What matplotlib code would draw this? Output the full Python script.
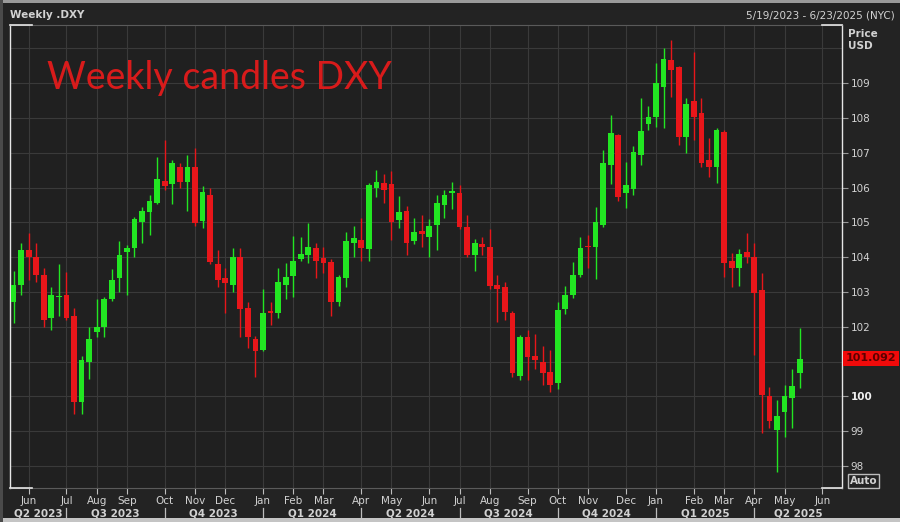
import matplotlib.pyplot as plt
import matplotlib.transforms as mtransforms
from matplotlib.patches import Rectangle
import pandas as pd

# weekly candles, week starting Monday
weeks = pd.date_range("2023-05-15", "2025-05-12", freq="7D")

opens = [102.7, 103.2, 104.2, 104.0, 103.5, 102.25, 102.85, 102.9, 102.3, 99.85,
         101.0, 101.85, 102.0, 102.8, 103.4, 104.15, 104.26, 105.0, 105.3, 105.56,
         106.2, 106.1, 106.6, 106.16, 106.6, 105.05, 105.8, 103.8, 103.4, 103.2,
         104.0, 102.55, 101.65, 101.33, 102.45, 102.4, 103.2, 103.45, 103.95, 104.07,
         104.26, 103.97, 103.86, 102.7, 103.4, 104.4, 104.5, 104.24, 106.0, 106.13,
         106.1, 105.07, 105.33, 104.47, 104.75, 104.58, 104.93, 105.5, 105.85, 105.85,
         104.87, 104.06, 104.38, 104.3, 103.2, 103.15, 102.4, 100.6, 101.7, 101.16,
         101.0, 100.7, 100.4, 102.5, 102.9, 103.49, 104.3, 104.3, 104.93, 106.65,
         107.5, 105.85, 105.96, 106.94, 107.83, 108.03, 108.9, 109.67, 109.47, 107.45,
         108.5, 108.14, 106.8, 106.6, 107.6, 103.9, 103.7, 104.15, 104.0, 103.06,
         100.0, 99.03, 99.55, 99.95, 100.67]
highs = [103.6, 104.4, 104.7, 104.4, 103.7, 103.15, 103.8, 103.57, 102.55, 101.16,
         102.0, 102.8, 102.85, 103.66, 104.47, 104.35, 105.15, 105.44, 105.8, 106.88,
         107.37, 106.8, 106.7, 106.94, 107.14, 106.05, 106.0, 104.2, 103.7, 104.26,
         104.26, 102.7, 101.73, 103.1, 102.7, 103.7, 103.83, 104.6, 104.58, 104.98,
         104.4, 104.3, 103.95, 103.5, 104.72, 104.9, 105.13, 106.13, 106.5, 106.4,
         106.48, 105.76, 105.47, 105.13, 105.2, 105.1, 105.8, 105.93, 106.16, 106.07,
         105.2, 104.52, 104.58, 104.8, 103.5, 103.3, 102.45, 101.76, 101.9, 101.8,
         101.45, 101.33, 102.7, 103.17, 103.87, 104.57, 104.63, 105.44, 107.08, 108.09,
         107.54, 106.74, 107.2, 108.57, 108.34, 109.58, 110.0, 110.24, 109.5, 108.57,
         109.9, 108.57, 107.42, 107.7, 107.66, 104.12, 104.24, 104.7, 104.4, 103.55,
         100.27, 99.9, 100.33, 100.8, 101.97]
lows = [102.1, 102.9, 103.35, 103.3, 102.0, 101.9, 102.3, 102.2, 99.5, 99.5,
        100.5, 101.7, 101.7, 102.75, 103.0, 102.9, 104.0, 104.4, 104.64, 105.53,
        105.93, 105.53, 106.0, 105.33, 104.9, 104.84, 103.8, 103.15, 102.4, 103.0,
        101.7, 101.4, 100.56, 101.3, 102.05, 102.25, 102.8, 102.86, 103.9, 103.83,
        103.4, 103.55, 102.3, 102.6, 103.15, 104.0, 103.9, 103.9, 105.73, 105.56,
        104.5, 104.84, 104.06, 104.38, 104.3, 104.0, 104.2, 105.13, 105.38, 104.8,
        104.0, 103.6, 104.06, 103.1, 102.14, 102.2, 100.56, 100.47, 100.47, 100.8,
        100.33, 100.13, 100.2, 102.36, 102.83, 103.42, 103.68, 103.37, 104.87, 106.1,
        105.6, 105.4, 105.8, 106.65, 107.66, 107.74, 107.7, 108.6, 107.22, 107.0,
        107.37, 106.6, 106.3, 106.13, 103.43, 103.14, 103.17, 103.83, 101.2, 98.95,
        99.1, 97.83, 98.83, 99.1, 100.24]
closes = [103.2, 104.2, 104.0, 103.5, 102.2, 102.9, 102.88, 102.25, 99.85, 101.05,
          101.65, 102.0, 102.8, 103.35, 104.06, 104.26, 105.1, 105.33, 105.6, 106.25,
          106.05, 106.7, 106.16, 106.6, 104.98, 105.87, 103.86, 103.35, 103.26, 104.0,
          102.5, 101.7, 101.3, 102.4, 102.4, 103.3, 103.43, 103.9, 104.1, 104.3,
          103.9, 103.83, 102.7, 103.43, 104.47, 104.55, 104.26, 106.07, 106.16, 105.93,
          105.0, 105.3, 104.4, 104.72, 104.67, 104.9, 105.56, 105.8, 105.9, 104.87,
          104.06, 104.4, 104.3, 103.17, 103.1, 102.43, 100.67, 101.7, 101.13, 101.05,
          100.67, 100.33, 102.48, 102.9, 103.49, 104.26, 104.28, 105.0, 106.7, 107.57,
          105.73, 106.07, 107.02, 107.63, 108.03, 109.0, 109.7, 109.38, 107.45, 108.4,
          108.03, 106.7, 106.6, 107.66, 103.83, 103.7, 104.1, 104.0, 102.97, 100.04,
          99.3, 99.44, 100.0, 100.3, 101.07]
last_price = 101.092
price_ticks = list(range(98, 110))

BG = "#232323"
PLOT_BG = "#202020"
GRID = "#3a3a3a"
TXT = "#d2d2d2"
GREEN = "#22e622"
RED = "#e8161a"

fig = plt.figure(figsize=(9, 5.22), dpi=100, facecolor=BG)
ax = fig.add_axes([10 / 900, 34 / 522, 832 / 900, 463 / 522])
ax.set_facecolor(PLOT_BG)

# candles
xs = list(range(len(weeks)))
cols = [GREEN if c >= o else RED for o, c in zip(opens, closes)]
bottoms = [min(o, c) for o, c in zip(opens, closes)]
heights = [max(abs(c - o), 0.04) for o, c in zip(opens, closes)]
ax.vlines(xs, lows, highs, colors=cols, lw=1.0, zorder=3)
ax.bar(xs, heights, bottom=bottoms, width=0.76, color=cols, zorder=4, linewidth=0)

xmin, xmax = -0.47, 109.6
ax.set_xlim(xmin, xmax)
ax.set_ylim(97.37, 110.67)


# month ticks sit on the candle of the week holding the first trading day
def week_pos(d):
    while d.weekday() >= 5:
        d = d + pd.Timedelta(days=1)
    return (d - weeks[0]).days // 7


months = pd.date_range("2023-06-01", "2025-06-01", freq="MS")
mpos = [week_pos(m) for m in months]
ax.set_xticks(mpos)
ax.set_xticklabels([m.strftime("%b") for m in months], fontsize=7.5, color=TXT)
ax.tick_params(axis="x", length=4, color="#bdbdbd", pad=1.5)

# quarter labels
trans = mtransforms.blended_transform_factory(ax.transData, ax.transAxes)
qb = [(p, m) for p, m in zip(mpos, months) if m.month in (1, 4, 7, 10)]
edges = [xmin] + [p for p, m in qb] + [xmax]
qnames = ["Q2 2023"] + ["Q%d %d" % ((m.month - 1) // 3 + 1, m.year) for p, m in qb]
for a, b, name in zip(edges[:-1], edges[1:], qnames):
    ax.text((a + b) / 2, -0.056, name, transform=trans, ha="center", va="center",
            fontsize=7.5, fontweight="bold", color=TXT, clip_on=False)
for p, m in qb:
    ax.plot([p, p], [-0.043, -0.066], transform=trans, color="#bdbdbd", lw=0.9,
            clip_on=False)

# price axis on the right; the 101 label sits under the last price tag
ax.yaxis.tick_right()
ax.set_yticks(price_ticks)
ax.set_yticklabels(["" if v == 101 else str(v) for v in price_ticks], fontsize=7.5,
                   color=TXT)
for t in ax.get_yticklabels():
    if t.get_text() == "100":
        t.set_fontweight("bold")
        t.set_color("#f0f0f0")
ax.tick_params(axis="y", length=4, color="#9a9a9a", pad=2)
ax.grid(True, color=GRID, lw=0.8, zorder=0)
ax.axhline(110, color=GRID, lw=0.8, zorder=0)
ax.set_axisbelow(True)

for side in ("top", "bottom"):
    ax.spines[side].set_color("#5a5a5a")
for side in ("left", "right"):
    ax.spines[side].set_color("#e6e6e6")
    ax.spines[side].set_linewidth(1.0)
# white corner marks on the frame
for xa, xb in ((0, 0.027), (0.976, 1)):
    for ya in (0, 1):
        ax.plot([xa, xb], [ya, ya], transform=ax.transAxes, color="#e6e6e6", lw=1.2,
                clip_on=False, zorder=6)

# last price tag
ytrans = mtransforms.blended_transform_factory(ax.transAxes, ax.transData)
ax.text(1.004, last_price, "%.3f" % last_price, transform=ytrans, ha="left",
        va="center", fontsize=8, fontweight="bold", color="#5c0000", clip_on=False,
        bbox=dict(boxstyle="square,pad=0.25", facecolor="#f00a0a", edgecolor="none"),
        zorder=7)

# annotation
ax.text(0.045, 0.862, "Weekly candles DXY", transform=ax.transAxes, fontsize=27,
        color="#d81b1b", family="Lato", va="baseline")

# header and side texts
fig.text(10 / 900, 1 - 15 / 522, "Weekly .DXY", fontsize=7.5, fontweight="bold",
         color=TXT, va="center")
fig.text(895 / 900, 1 - 15 / 522, "5/19/2023 - 6/23/2025 (NYC)", fontsize=7.5,
         color=TXT, va="center", ha="right")
fig.text(848 / 900, 1 - 40 / 522, "Price\nUSD", fontsize=7.5, fontweight="bold",
         color=TXT, va="center", linespacing=1.3)
fig.text(850 / 900, 1 - 481 / 522, "Auto", fontsize=7.5, fontweight="bold",
         color=TXT, va="center",
         bbox=dict(boxstyle="square,pad=0.15", facecolor="none", edgecolor="#bdbdbd",
                   lw=1.0))

# frame strips of the window
fig.patches.append(Rectangle((0, 1 - 3 / 522), 1, 3 / 522, transform=fig.transFigure,
                             facecolor="#9a9a9a", edgecolor="none"))
fig.patches.append(Rectangle((0, 0), 1, 4 / 522, transform=fig.transFigure,
                             facecolor="#c4c4c4", edgecolor="none"))
fig.patches.append(Rectangle((0, 0), 3 / 900, 1, transform=fig.transFigure,
                             facecolor="#4a4a4a", edgecolor="none"))

fig.savefig("out.png", dpi=100, facecolor=BG)
